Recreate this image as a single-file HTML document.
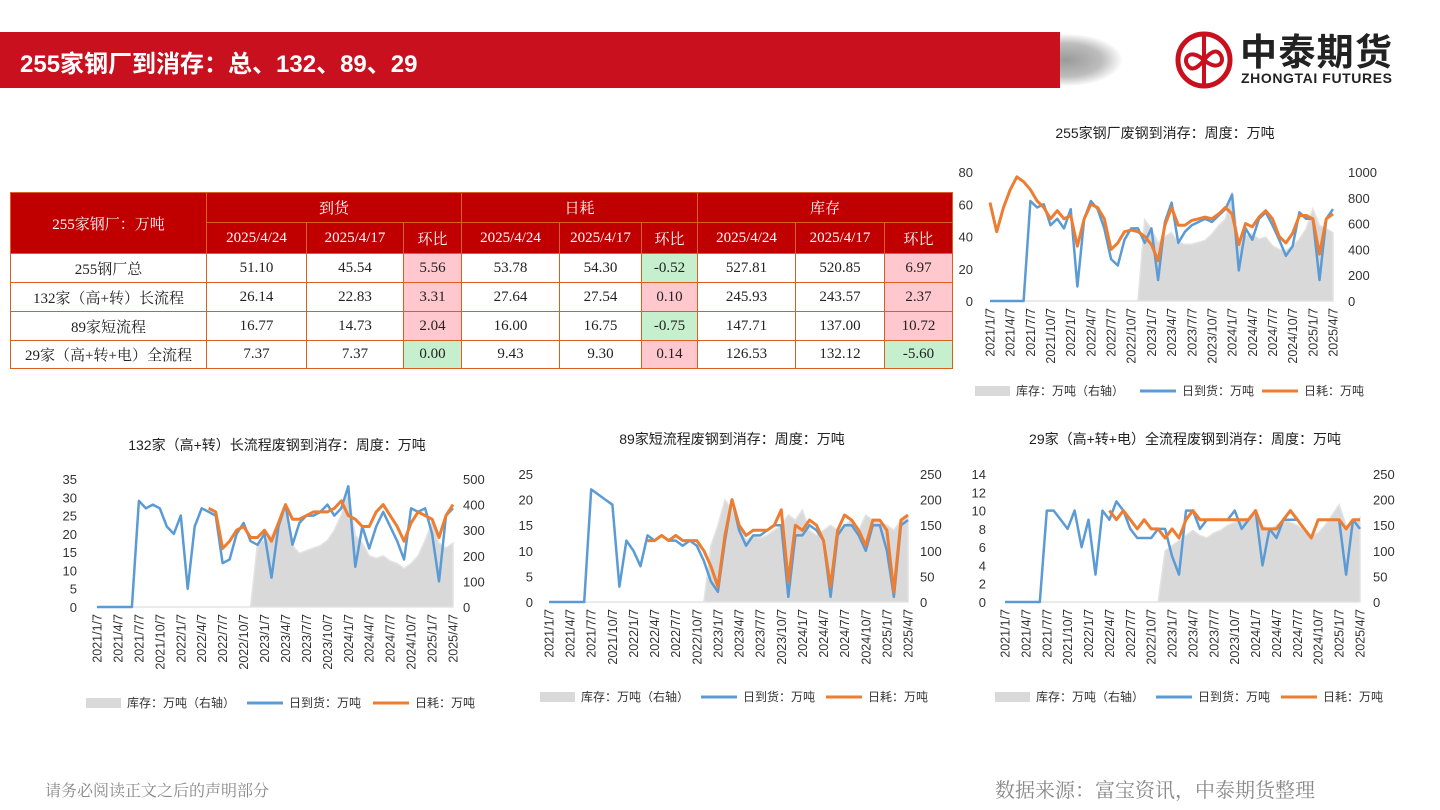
<!DOCTYPE html>
<html><head><meta charset="utf-8">
<style>
body{margin:0;width:1440px;height:810px;background:#fff;position:relative;overflow:hidden;font-family:"Liberation Sans","Noto Sans CJK SC",sans-serif}
#hdr{position:absolute;left:0;top:32px;width:1060px;height:56px;background:#c8101e}
#shadow{position:absolute;left:1010px;top:34px;width:112px;height:52px;border-radius:50%;background:radial-gradient(ellipse at center,#9a9a9a 0%,#bdbdbd 45%,rgba(255,255,255,0) 72%)}
#title{position:absolute;left:20px;top:44px;color:#fff;font-size:24px;font-weight:bold;font-family:"Liberation Sans","Noto Sans CJK SC",sans-serif}
table{position:absolute;left:10px;top:192px;border-collapse:collapse;font-family:"Liberation Serif","Noto Serif CJK SC",serif;font-size:15px}
td{border:1px solid #d9601e;text-align:center;padding:0;color:#222}
.h{background:#c00000;color:#fff}
.p{background:#ffc7ce}.g{background:#c6efce}
.foot{position:absolute;color:#888;font-family:"Liberation Serif","Noto Serif CJK SC",serif}
svg text{font-family:"Liberation Sans","Noto Sans CJK SC",sans-serif}
</style></head><body>
<div id="shadow"></div>
<div id="hdr"></div>
<div id="title">255家钢厂到消存：总、132、89、29</div>
<svg style="position:absolute;left:1170px;top:28px" width="240" height="64">
<circle cx="34" cy="32" r="26" fill="none" stroke="#c8101e" stroke-width="5"/>
<path d="M34 8 V56 M34 32 c-14 -12 -22 -2 -16 6 c6 8 16 -6 16 -6 c0 0 10 -14 16 -6 c6 8 -2 18 -16 6" fill="none" stroke="#c8101e" stroke-width="4"/>
<text x="70" y="37" font-size="37" font-weight="bold" fill="#222" textLength="152">中泰期货</text>
<text x="71" y="55" font-size="14" font-weight="bold" fill="#222" textLength="151">ZHONGTAI FUTURES</text>
</svg>

<table>
<colgroup><col style="width:196px"><col style="width:100px"><col style="width:97px"><col style="width:58px"><col style="width:98px"><col style="width:82px"><col style="width:56px"><col style="width:98px"><col style="width:89px"><col style="width:68px"></colgroup>
<tr style="height:30px"><td class="h" rowspan="2">255家钢厂：万吨</td><td class="h" colspan="3">到货</td><td class="h" colspan="3">日耗</td><td class="h" colspan="3">库存</td></tr>
<tr style="height:31px"><td class="h">2025/4/24</td><td class="h">2025/4/17</td><td class="h">环比</td><td class="h">2025/4/24</td><td class="h">2025/4/17</td><td class="h">环比</td><td class="h">2025/4/24</td><td class="h">2025/4/17</td><td class="h">环比</td></tr>
<tr style="height:29px"><td>255钢厂总</td><td>51.10</td><td>45.54</td><td class="p">5.56</td><td>53.78</td><td>54.30</td><td class="g">-0.52</td><td>527.81</td><td>520.85</td><td class="p">6.97</td></tr>
<tr style="height:29px"><td>132家（高+转）长流程</td><td>26.14</td><td>22.83</td><td class="p">3.31</td><td>27.64</td><td>27.54</td><td class="p">0.10</td><td>245.93</td><td>243.57</td><td class="p">2.37</td></tr>
<tr style="height:29px"><td>89家短流程</td><td>16.77</td><td>14.73</td><td class="p">2.04</td><td>16.00</td><td>16.75</td><td class="g">-0.75</td><td>147.71</td><td>137.00</td><td class="p">10.72</td></tr>
<tr style="height:28px"><td>29家（高+转+电）全流程</td><td>7.37</td><td>7.37</td><td class="g">0.00</td><td>9.43</td><td>9.30</td><td class="p">0.14</td><td>126.53</td><td>132.12</td><td class="g">-5.60</td></tr>
</table>

<svg id="charts" style="position:absolute;left:0;top:0" width="1440" height="810"></svg>

<div class="foot" style="left:45px;top:778px;font-size:16px">请务必阅读正文之后的声明部分</div>
<div class="foot" style="left:995px;top:774px;font-size:20px">数据来源：富宝资讯，中泰期货整理</div>

<script>
const xTickLabels=["2021/1/7","2021/4/7","2021/7/7","2021/10/7","2022/1/7","2022/4/7","2022/7/7","2022/10/7","2023/1/7","2023/4/7","2023/7/7","2023/10/7","2024/1/7","2024/4/7","2024/7/7","2024/10/7","2025/1/7","2025/4/7"];
const Z23=[0,0,0,0,0,0,0,0,0,0,0,0,0,0,0,0,0,0,0,0,0,0,0];
// chart 1: 255 total
const c1Arrival=[0,0,0,0,0,0,62,58,60,47,51,45,57,9,51,62,57,45,26,22,38,45,45,36,45,13,49,61,36,43,47,49,51,49,53,57,66,19,45,38,51,55,47,38,28,34,55,51,51,13,51,57];
const c1Consumption=[61,43,58,69,77,74,69,62,58,51,56,51,53,34,51,60,58,51,32,36,43,44,43,40,35,25,47,58,47,47,50,51,52,51,54,58,54,35,48,46,52,56,51,40,36,42,53,53,51,29,51,54];
const c1Inventory=Z23.concat([630,560,455,500,530,455,440,440,455,470,520,585,636,845,430,505,520,480,495,430,400,390,430,480,560,715,585,560,530]);
const c1LeftTicks=[0,20,40,60,80];
const c1RightTicks=[0,200,400,600,800,1000];
// chart 2: 132
const c2Arrival=[0,0,0,0,0,0,29,27,28,27,22,20,25,5,22,27,26,25,12,13,20,23,18,17,20,8,22,28,17,23,25,25,26,28,25,27,33,11,22,16,22,26,22,18,13,27,26,27,20,7,25,27];
const c2Consumption=[null,null,null,null,null,null,null,null,null,null,null,null,null,null,null,null,27,26,16,18,21,22,19,19,21,18,23,28,24,24,25,26,26,26,27,29,25,24,22,22,26,28,25,22,18,23,26,25,24,19,25,28];
const c2Inventory=Z23.concat([250,260,280,330,380,240,210,220,230,240,260,300,360,450,280,250,200,190,200,180,170,150,170,200,260,330,250,230,250]);
const c2LeftTicks=[0,5,10,15,20,25,30,35];
const c2RightTicks=[0,100,200,300,400,500];
// chart 3: 89
const c3Arrival=[0,0,0,0,0,0,22,21,20,19,3,12,10,7,13,12,13,12,12,11,12,11,8,4,2,12,20,14,11,13,13,14,15,15,1,13,13,15,14,12,1,13,15,15,13,10,15,15,10,1,15,16];
const c3Consumption=[null,null,null,null,null,null,null,null,null,null,null,null,null,null,12,12,13,12,13,12,12,12,10,7,3,13,20,15,13,14,14,14,15,18,4,15,14,16,15,12,3,14,17,16,14,11,16,16,14,2,16,17];
const c3Inventory=Z23.concat([110,150,200,180,150,120,130,125,130,140,150,170,160,180,140,130,140,150,140,150,160,140,170,160,155,150,140,160,165]);
const c3LeftTicks=[0,5,10,15,20,25];
const c3RightTicks=[0,50,100,150,200,250];
// chart 4: 29
const c4Arrival=[0,0,0,0,0,0,10,10,9,8,10,6,9,3,10,9,11,10,8,7,7,7,8,8,5,3,10,10,8,9,9,9,9,10,8,9,10,4,8,7,9,9,9,8,7,9,9,9,9,3,9,8];
const c4Consumption=[null,null,null,null,null,null,null,null,null,null,null,null,null,null,null,10,9,10,9,8,9,8,8,7,8,7,9,10,9,9,9,9,9,9,9,9,10,8,8,8,9,10,9,8,7,9,9,9,9,8,9,9];
const c4Inventory=Z23.concat([100,110,120,130,140,130,125,135,140,150,155,160,165,180,150,140,150,160,155,150,140,130,135,150,170,190,150,150,165]);
const c4LeftTicks=[0,2,4,6,8,10,12,14];
const c4RightTicks=[0,50,100,150,200,250];

const NS="http://www.w3.org/2000/svg";
const root=document.getElementById('charts');
function mk(tag,attrs,parent,txt){const e=document.createElementNS(NS,tag);for(const k in attrs)e.setAttribute(k,attrs[k]);if(txt!==undefined)e.textContent=txt;parent.appendChild(e);return e;}

function drawChart(cfg){
  const g=mk('g',{},root);
  
  
  const lMax=cfg.lt[cfg.lt.length-1], rMax=cfg.rt[cfg.rt.length-1];
  const yL=v=>cfg.bottom-(v/lMax)*(cfg.bottom-cfg.top);
  const yR=v=>cfg.bottom-(v/rMax)*(cfg.bottom-cfg.top);
  const xS=i=>cfg.x0+i*(cfg.x1-cfg.x0)/51;
  const t=mk('text',{x:cfg.tx,y:cfg.ty,'text-anchor':'middle','font-size':14,fill:'#222'},g,cfg.title);
  
  
  let pts=[xS(0)+','+yR(0)];
  cfg.inv.forEach((v,i)=>pts.push(xS(i)+','+yR(v)));
  pts.push(xS(cfg.inv.length-1)+','+yR(0));
  const a=mk('polygon',{points:pts.join(' '),fill:'#d9d9d9',stroke:'#e3e3e3','stroke-width':1.5},g);
  
  
  function line(arr,color,w,nm){
    let d='';arr.forEach((v,i)=>{if(v===null)return;d+=(d?'L':'M')+xS(i).toFixed(1)+' '+yL(v).toFixed(1);});
    const p=mk('path',{d:d,fill:'none',stroke:color,'stroke-width':w,'stroke-linejoin':'round'},g);
    
    
  }
  line(cfg.arr,'#5b9bd5',2.5,'arrival-line');
  line(cfg.con,'#ed7d31',3,'consumption-line');
  cfg.lt.forEach(v=>{const e=mk('text',{x:cfg.lx,y:yL(v)+5,'text-anchor':'end','font-size':13,fill:'#333'},g,v);
    
    });
  cfg.rt.forEach(v=>{const e=mk('text',{x:cfg.rx,y:yR(v)+5,'text-anchor':'start','font-size':13,fill:'#333'},g,v);
    
    });
  xTickLabels.forEach((s,k)=>{const x=xS(k*3)+4.5;const y=cfg.bottom+7;
    const e=mk('text',{x:x,y:y,'text-anchor':'end','font-size':12.5,fill:'#333',transform:`rotate(-90 ${x} ${y})`},g,s);
    
    });
  const L=cfg.leg, ly=L.y;
  const r=mk('rect',{x:L.a,y:ly-5,width:35,height:10,fill:'#d9d9d9'},g);
  
  
  const t1=mk('text',{x:L.a+41,y:ly+4,'font-size':12,fill:'#333'},g,'库存：万吨（右轴）');
  
  
  const l1=mk('line',{x1:L.b,x2:L.b+36,y1:ly,y2:ly,stroke:'#5b9bd5','stroke-width':3},g);
  
  
  const t2=mk('text',{x:L.b+42,y:ly+4,'font-size':12,fill:'#333'},g,'日到货：万吨');
  
  
  const l2=mk('line',{x1:L.c,x2:L.c+36,y1:ly,y2:ly,stroke:'#ed7d31','stroke-width':3},g);
  
  
  const t3=mk('text',{x:L.c+42,y:ly+4,'font-size':12,fill:'#333'},g,'日耗：万吨');
  
  
}
drawChart({name:'chart-255-total',title:'255家钢厂废钢到消存：周度：万吨',tx:1165,ty:138,x0:990,x1:1333,top:172,bottom:301,lx:973,rx:1348,lt:c1LeftTicks,rt:c1RightTicks,arr:c1Arrival,con:c1Consumption,inv:c1Inventory,leg:{y:391,a:975,b:1140,c:1262}});
drawChart({name:'chart-132-long',title:'132家（高+转）长流程废钢到消存：周度：万吨',tx:277,ty:450,x0:97,x1:453,top:479,bottom:607,lx:77,rx:463,lt:c2LeftTicks,rt:c2RightTicks,arr:c2Arrival,con:c2Consumption,inv:c2Inventory,leg:{y:703,a:86,b:247,c:373}});
drawChart({name:'chart-89-short',title:'89家短流程废钢到消存：周度：万吨',tx:732,ty:444,x0:549,x1:908,top:474,bottom:602,lx:533,rx:920,lt:c3LeftTicks,rt:c3RightTicks,arr:c3Arrival,con:c3Consumption,inv:c3Inventory,leg:{y:697,a:540,b:701,c:826}});
drawChart({name:'chart-29-full',title:'29家（高+转+电）全流程废钢到消存：周度：万吨',tx:1185,ty:444,x0:1005,x1:1360,top:474,bottom:602,lx:986,rx:1373,lt:c4LeftTicks,rt:c4RightTicks,arr:c4Arrival,con:c4Consumption,inv:c4Inventory,leg:{y:697,a:995,b:1156,c:1281}});
</script>
</body></html>
